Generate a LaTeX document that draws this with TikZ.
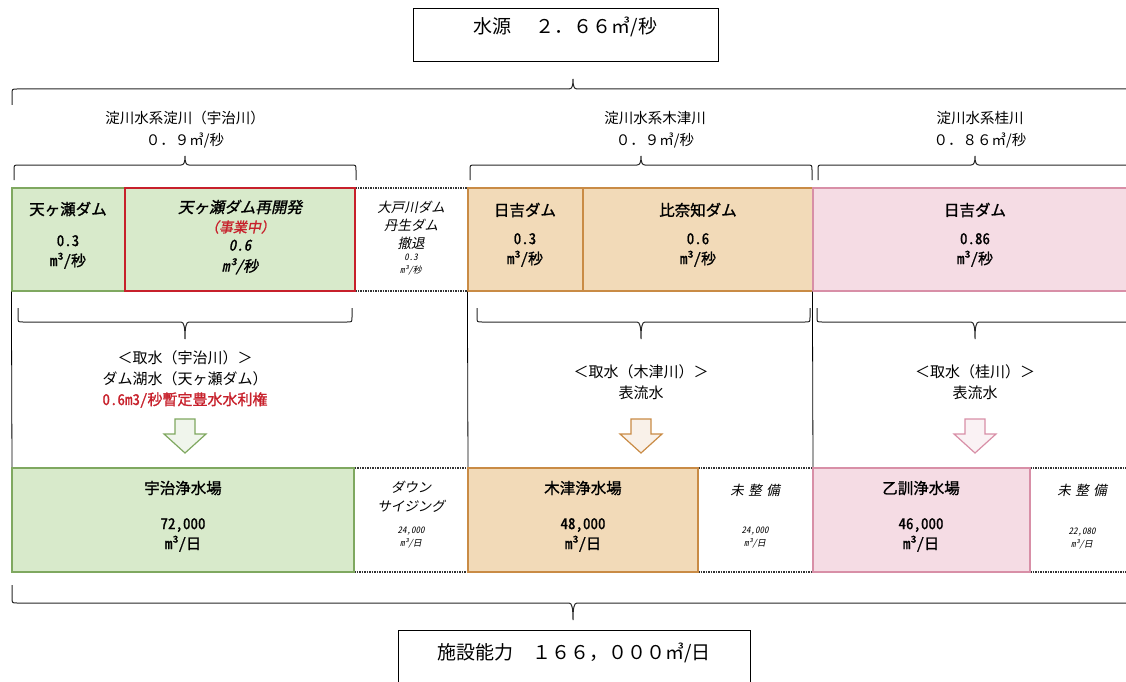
\documentclass[tikz,border=0pt]{standalone}
\usepackage{fontspec}
\setmainfont{Noto Sans CJK JP}
\newfontfamily\jpb[FakeBold=1.2]{Noto Sans CJK JP}
\newfontfamily\jpi[FakeSlant=0.2]{Noto Sans CJK JP}
\newfontfamily\jpbi[FakeBold=1.2,FakeSlant=0.2]{Noto Sans CJK JP}
\newfontfamily\jpnum[FakeBold=1.2,RawFeature=+hwid]{Noto Sans CJK JP}
\newfontfamily\jpnumi[FakeBold=1.2,FakeSlant=0.2,RawFeature=+hwid]{Noto Sans CJK JP}
\newfontfamily\jpnumsl[FakeSlant=0.2,RawFeature=+hwid]{Noto Sans CJK JP}
\usetikzlibrary{fit}

\definecolor{grfill}{HTML}{D8EACB}
\definecolor{grline}{HTML}{7FA860}
\definecolor{orfill}{HTML}{F2DAB8}
\definecolor{orline}{HTML}{C98B45}
\definecolor{pkfill}{HTML}{F5DCE4}
\definecolor{pkline}{HTML}{D88FA7}
\definecolor{rdline}{HTML}{C7202B}

\begin{document}
\begin{tikzpicture}[x=1pt, y=-1pt,
cell/.style={draw, inner sep=0pt, line width=1.2pt},
gcell/.style={cell, fill=grfill, draw=grline},
ocell/.style={cell, fill=orfill, draw=orline},
pcell/.style={cell, fill=pkfill, draw=pkline},
rcell/.style={cell, fill=grfill, draw=rdline, line width=2pt},
gap/.style={draw=black!80, densely dotted, line width=1.5pt, fill=white, inner sep=0pt},
hdr/.style={draw, line width=1pt, inner sep=0pt, font=\fontsize{19}{22}\selectfont},
title/.style={inner sep=0pt, font=\jpb\fontsize{15.5}{18}\selectfont},
amount/.style={align=center, inner sep=0pt, font=\jpnum\fontsize{15}{20}\selectfont},
note/.style={align=center, inner sep=0pt, font=\fontsize{15}{21}\selectfont},
minor/.style={align=center, inner sep=0pt, font=\jpnumsl\fontsize{9}{13}\selectfont},
bracket/.style={line width=1pt, draw=black!85}]

%%%%%% FRAME %%%%%%%%%%

\clip (0,0) rectangle (1126,682);
\useasboundingbox (0,0) rectangle (1126,682);

\node[hdr, fit={(413,9) (718,62)}] (source) {水源　\hspace{5pt}２．６６㎥/秒};
\node[hdr, fit={(398,630) (750,692)}] (capacity) {施設能力　１６６，０００㎥/日};

% braces: left / right / tip x, line y, end y, tip y
\foreach \xa/\xb/\xm/\yl/\ye/\yt in {12/1136/573/89/105/79, 14/356/185/165/180/156,
    470/812/641/165/180/156, 818/1132/975/165/180/156, 18/352/185/322/308/339,
    477/810/641/322/308/339, 817/1133/975/322/308/339, 12/1134/573/603/585/620}
  \draw[bracket] (\xa,\ye) -- (\xa,{\yl+0.35*(\ye-\yl)}) .. controls (\xa,\yl) .. (\xa+5,\yl)
    -- (\xm-4,\yl) .. controls (\xm-1,\yl) and (\xm,{\yl+0.3*(\yt-\yl)}) .. (\xm,\yt)
    .. controls (\xm,{\yl+0.3*(\yt-\yl)}) and (\xm+1,\yl) .. (\xm+4,\yl)
    -- (\xb-5,\yl) .. controls (\xb,\yl) .. (\xb,{\yl+0.35*(\ye-\yl)}) -- (\xb,\ye);

\node[note, font=\fontsize{14.5}{22}\selectfont] (uji river) at (185,130) {淀川水系淀川（宇治川）\\０．９㎥/秒};
\node[note, font=\fontsize{14.5}{22}\selectfont] (kizu river) at (655,130) {淀川水系木津川\\０．９㎥/秒};
\node[note, font=\fontsize{14.5}{22}\selectfont] (katsura river) at (980,130) {淀川水系桂川\\０．８６㎥/秒};

%%%%%% DAMS %%%%%%%%%%

\node[gap, fit={(355,188) (468,291)}] (oto) {};
\node[gcell, fit={(12,188) (125,291)}] (amagase) {};
\node[rcell, fit={(125,188) (355,291)}] (redev) {};
\node[ocell, fit={(468,188) (583,291)}] (hiyoshik) {};
\node[ocell, fit={(583,188) (813,291)}] (hinachi) {};
\node[pcell, fit={(813,188) (1140,291)}] (hiyoshi) {};

\node[title] (amagase name) at (68,209) {天ヶ瀬ダム};
\node[amount] (amagase flow) at (68,252) {0.3\\m³/秒};
\node[title, font=\jpbi\fontsize{15.5}{18}\selectfont] (redev name) at (240,207) {天ヶ瀬ダム再開発};
\node[title, font=\jpbi\fontsize{14}{16}\selectfont, text=rdline] (redev state) at (240,227) {（事業中）};
\node[amount, font=\jpnumi\fontsize{15}{21}\selectfont] (redev flow) at (240,257) {0.6\\m³/秒};
\node[note, font=\jpi\fontsize{13.5}{18}\selectfont] (oto name) at (411,225) {大戸川ダム\\丹生ダム\\撤退};
\node[minor] (oto flow) at (411,265) {0.3\\m³/秒};
\node[title] (hiyoshik name) at (525,210) {日吉ダム};
\node[amount] (hiyoshik flow) at (525,250) {0.3\\m³/秒};
\node[title] (hinachi name) at (698,210) {比奈知ダム};
\node[amount] (hinachi flow) at (698,250) {0.6\\m³/秒};
\node[title] (hiyoshi name) at (975,210) {日吉ダム};
\node[amount] (hiyoshi flow) at (975,250) {0.86\\m³/秒};

%%%%%% INTAKE %%%%%%%%%%

\draw[line width=.8pt] (amagase.south west) -- (12,468);
\draw[line width=.8pt] (hiyoshik.south west) -- (468,468);
\draw[line width=.8pt] (hiyoshi.south west) -- (813,468);

\node[note] (uji intake) at (185,358) {＜取水（宇治川）＞};
\node[note] (uji source) at (185,379) {ダム湖水（天ヶ瀬ダム）};
\node[note, font=\jpnum\fontsize{15}{21}\selectfont, text=rdline] (uji right) at (185,400) {0.6m3/秒暫定豊水水利権};
\node[note] (kizu intake) at (641,382) {＜取水（木津川）＞\\表流水};
\node[note] (katsura intake) at (975,382) {＜取水（桂川）＞\\表流水};

\foreach \ax/\col in {185/grline, 641/orline, 975/pkline}
  \draw[\col, line width=1.2pt, fill=\col!12, line join=miter]
    (\ax-10,419) -- (\ax+10,419) -- (\ax+10,434) -- (\ax+21,434) -- (\ax,453)
    -- (\ax-21,434) -- (\ax-10,434) -- cycle;

%%%%%% PLANTS %%%%%%%%%%

\node[gap, fit={(354,468) (468,572)}] (down) {};
\node[gap, fit={(698,468) (813,572)}] (kizu spare) {};
\node[gap, fit={(1030,468) (1140,572)}] (otokuni spare) {};
\node[gcell, fit={(12,468) (354,572)}] (uji) {};
\node[ocell, fit={(468,468) (698,572)}] (kizu) {};
\node[pcell, fit={(813,468) (1030,572)}] (otokuni) {};

\node[title] (uji name) at (183,488) {宇治浄水場};
\node[amount] (uji out) at (183,535) {72,000\\m³/日};
\node[note, font=\jpi\fontsize{13.5}{19}\selectfont] (down name) at (411,497) {ダウン\\サイジング};
\node[minor] (down out) at (411,538) {24,000\\m³/日};
\node[title] (kizu name) at (583,488) {木津浄水場};
\node[amount] (kizu out) at (583,535) {48,000\\m³/日};
\node[note, font=\jpi\fontsize{13.5}{15}\selectfont] (kizu spare name) at (755,490) {未\,\,整\,\,備};
\node[minor] (kizu spare out) at (755,538) {24,000\\m³/日};
\node[title] (otokuni name) at (921,488) {乙訓浄水場};
\node[amount] (otokuni out) at (921,535) {46,000\\m³/日};
\node[note, font=\jpi\fontsize{13.5}{15}\selectfont] (otokuni spare name) at (1082,490) {未\,\,整\,\,備};
\node[minor] (otokuni spare out) at (1082,539) {22,080\\m³/日};

\end{tikzpicture}
\end{document}
